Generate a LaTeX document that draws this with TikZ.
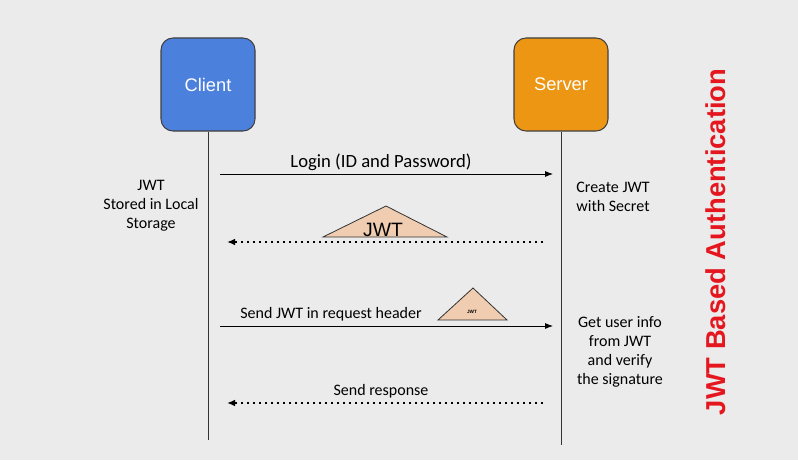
\documentclass[tikz,border=0pt]{standalone}
\usepackage{fontspec}
\setmainfont{Carlito}
\newfontfamily\arialf{Liberation Sans}
\usetikzlibrary{arrows.meta}
\definecolor{bg}{HTML}{EBEBEB}
\definecolor{cblue}{HTML}{4C80DD}
\definecolor{sorange}{HTML}{EC9613}
\definecolor{tri}{HTML}{F0CDB0}
\definecolor{tred}{HTML}{E5161D}
\tikzset{
  actor/.style={draw=black!75, line width=0.8pt, rounded corners=9pt, minimum width=70.5pt, minimum height=69.75pt, text=white, font=\arialf\fontsize{13.7}{16}\selectfont},
  life/.style={draw=black!80, line width=0.6pt},
  msg/.style={draw=black, line width=0.6pt, -{Latex[length=6pt,width=4.5pt]}},
  reply/.style={draw=black, line width=1.2pt, dash pattern=on 1.2pt off 3.3pt, -{Latex[length=6pt,width=5pt]}},
  lbl/.style={font=\fontsize{14}{16}\selectfont, inner sep=0pt},
  note/.style={font=\fontsize{12}{14.2}\selectfont, align=center, inner sep=0pt},
  token/.style={draw=black!80, fill=tri, line width=0.6pt},
}
\begin{document}
\begin{tikzpicture}[x=0.75pt,y=-0.75pt]
\fill[bg] (0,0) rectangle (798,460);
\useasboundingbox (0,0) rectangle (798,460);
\node[actor, fill=cblue] (client) at (208,84.5) {\raisebox{-1.5pt}{Client}};
\node[actor, fill=sorange] (server) at (561,84.5) {\raisebox{-1.5pt}{Server}};
\coordinate (cend) at (208,440);
\coordinate (send) at (561,445);
\draw[life] (client.south) -- (cend);
\draw[life] (server.south) -- (send);
% message 1
\coordinate (m1a) at (220,174);
\coordinate (m1b) at (553,174);
\draw[msg] (m1a) -- (m1b);
\node[lbl] (m1l) at (381,162.5) {Login (ID and Password)};
% reply 1
\coordinate (r1a) at (543,242);
\coordinate (r1b) at (227,242);
\draw[reply] (r1a) -- (r1b);
\draw[token] (323,237) coordinate (t1l) -- (386,206) coordinate (t1t) -- (447,237) coordinate (t1r) -- cycle;
\node[font=\arialf\fontsize{14.5}{16}\selectfont, inner sep=0pt] (t1) at (383,229.5) {JWT};
% message 2
\coordinate (m2a) at (220,326);
\coordinate (m2b) at (553,326);
\draw[msg] (m2a) -- (m2b);
\node[lbl, font=\fontsize{12}{14}\selectfont] (m2l) at (331,314) {Send JWT in request header};
\draw[token] (438,320) coordinate (t2l) -- (473,288) coordinate (t2t) -- (507,320) coordinate (t2r) -- cycle;
\node[font=\arialf\bfseries\fontsize{3.5}{4}\selectfont, inner sep=0pt] (t2) at (472,312) {JWT};
% reply 2
\coordinate (r2a) at (543,403);
\coordinate (r2b) at (227,403);
\draw[reply] (r2a) -- (r2b);
\node[lbl, font=\fontsize{12}{14}\selectfont] (r2l) at (381,391) {Send response};
% notes
\node[note] (n1) at (151,206) {JWT\\Stored in Local\\Storage};
\node[note] (n2) at (613,196.5) {Create JWT\\with Secret};
\node[note] (n3) at (620,351.5) {Get user info\\from JWT\\and verify\\the signature};
% title
\node[rotate=90, text=tred, font=\arialf\bfseries\fontsize{20.5}{22}\selectfont, inner sep=0pt] (title) at (716,242) {JWT Based Authentication};
\end{tikzpicture}
\end{document}
